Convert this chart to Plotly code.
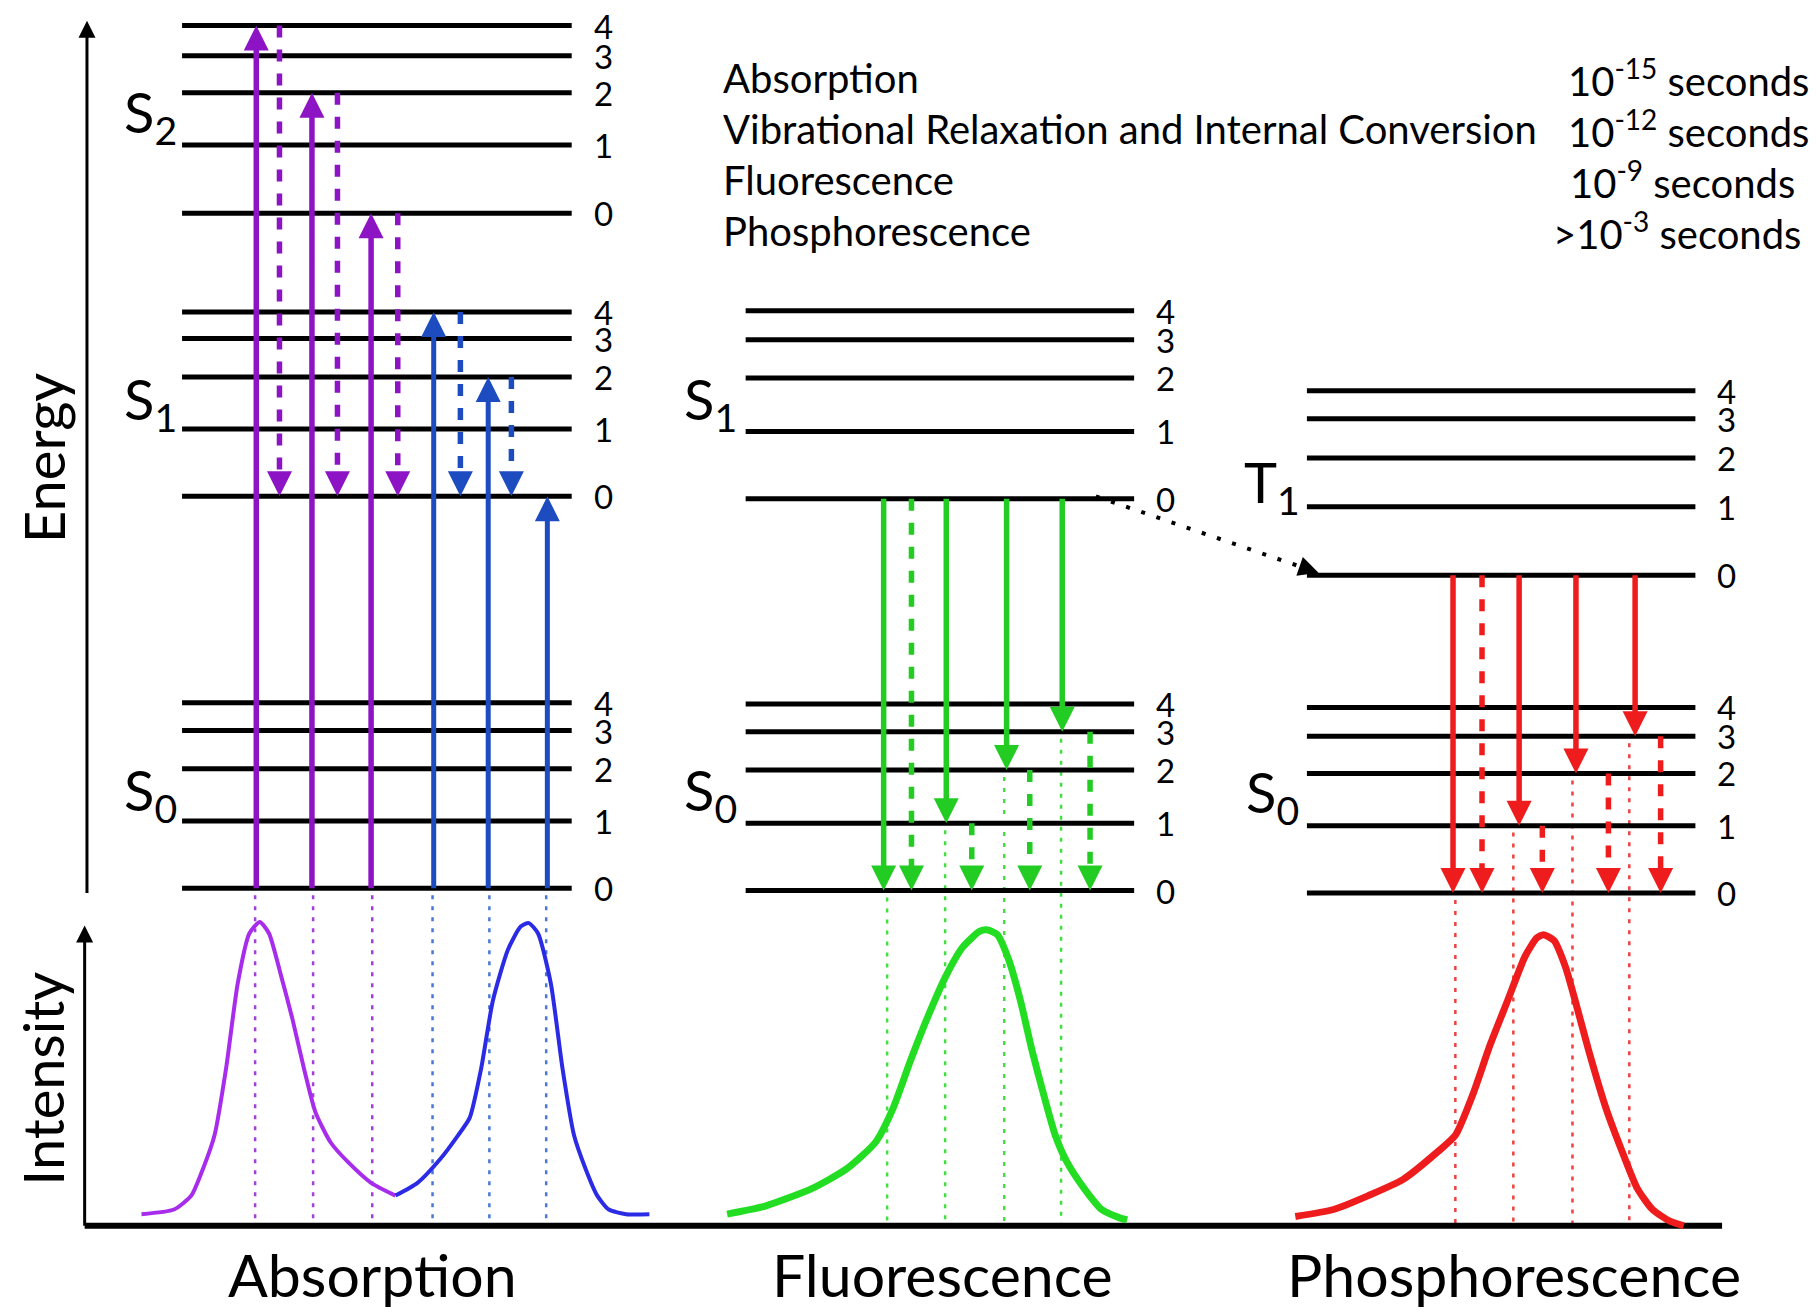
import math
import plotly.graph_objects as go

# ---------------- figure frame (figure units: 1566 x 1131.5) ----------------
W_PX, H_PX = 1816, 1312
X_MAX = 1566.0
Y_MAX = X_MAX * H_PX / W_PX
PX_PER_UNIT = W_PX / X_MAX

# ---------------- data ----------------
vib_labels = ["0", "1", "2", "3", "4"]

# energy of vibrational levels 0..4 (vertical position, top = high energy)
abs_S2_y = [184, 125, 80, 48, 22]
abs_S1_y = [428, 370, 325, 292, 269]
abs_S0_y = [766, 708, 663, 630, 606]
flu_S1_y = [430, 372, 326, 293, 268]
flu_S0_y = [768, 710, 664, 631, 607]
pho_T1_y = [496, 437, 395, 361, 337]
pho_S0_y = [770, 712, 667, 635, 610]

abs_span = [157, 493]
flu_span = [643, 978]
pho_span = [1127, 1462]

# absorption transitions (x position, target vibrational level)
abs_S2_up_x = [221, 269, 320]
abs_S2_up_to = [4, 2, 0]
abs_S1_up_x = [374, 421, 472]
abs_S1_up_to = [4, 2, 0]
abs_S2_relax_x = [241, 291, 343]
abs_S2_relax_from = [4, 2, 0]
abs_S1_relax_x = [397, 441]
abs_S1_relax_from = [4, 2]

# fluorescence transitions
flu_emit_x = [762, 816, 868, 916]
flu_emit_to = [0, 1, 2, 3]
flu_relax_x = [786, 838, 888, 940]
flu_relax_from = ["S1", 1, 2, 3]
flu_guide_x = [765, 815, 866, 915]

# phosphorescence transitions
pho_emit_x = [1253, 1310, 1359, 1410]
pho_emit_to = [0, 1, 2, 3]
pho_relax_x = [1278, 1330, 1387, 1432]
pho_relax_from = ["T1", 1, 2, 3]
pho_guide_x = [1255, 1305, 1356, 1405]

abs_guide_purple_x = [220, 270, 321]
abs_guide_blue_x = [373, 422, 471]

# intersystem crossing
isc_x = [945, 1137]
isc_y = [428, 494]

# spectra
spec_base_y = 1057
abs_purple_x = [122, 150, 165, 175, 185, 195, 205, 215, 224, 232, 242, 252, 262, 272, 285, 300, 320, 341]
abs_purple_y = [1047, 1043, 1031, 1008, 979, 921, 848, 805, 795, 805, 840, 878, 921, 959, 985, 1002, 1020, 1031]
abs_blue_x = [341, 360, 380, 395, 405, 415, 425, 438, 449, 456, 464, 475, 485, 495, 505, 515, 525, 540, 560]
abs_blue_y = [1031, 1020, 999, 979, 964, 921, 863, 819, 799, 796, 805, 848, 921, 979, 1008, 1031, 1043, 1047, 1047]
flu_x = [627, 660, 700, 730, 755, 770, 785, 800, 815, 830, 845, 852, 860, 870, 880, 890, 900, 910, 920, 935, 950, 965, 972]
flu_y = [1047, 1040, 1025, 1008, 985, 956, 915, 877, 843, 817, 803, 802, 806, 828, 863, 906, 944, 979, 1002, 1025, 1043, 1050, 1052]
pho_x = [1117, 1150, 1180, 1210, 1240, 1255, 1270, 1285, 1300, 1315, 1325, 1331, 1340, 1350, 1360, 1370, 1385, 1400, 1412, 1425, 1440, 1452]
pho_y = [1049, 1043, 1031, 1017, 993, 979, 944, 901, 863, 825, 809, 806, 811, 834, 869, 906, 956, 996, 1025, 1043, 1053, 1057]

legend_names = ["Absorption", "Vibrational Relaxation and Internal Conversion", "Fluorescence", "Phosphorescence"]
legend_times = ["10<sup>-15</sup> seconds", "10<sup>-12</sup> seconds", "10<sup>-9</sup> seconds", "&gt;10<sup>-3</sup> seconds"]
legend_rows_y = [67, 111, 155, 199]
legend_times_right = [1562, 1562, 1550, 1555]

panel_titles = ["Absorption", "Fluorescence", "Phosphorescence"]
panel_title_x = [321, 813, 1306]

# ---------------- styles ----------------
FONT = "Lato"
PURPLE = "#8C14C4"
BLUE = "#1C4CC0"
GREEN = "#22CC22"
RED = "#EE1C1C"

fig = go.Figure()


def seg(x, y, color, width, dash="solid", head=0):
    lx, ly = list(x), list(y)
    if head:
        dx, dy = x[1] - x[0], y[1] - y[0]
        L = math.hypot(dx, dy)
        cut = 0.6 * head / PX_PER_UNIT
        lx[1] = x[1] - dx / L * cut
        ly[1] = y[1] - dy / L * cut
    fig.add_trace(go.Scatter(
        x=lx, y=ly, mode="lines", line=dict(color=color, width=width, dash=dash),
        hoverinfo="skip", showlegend=False))
    if head:
        fig.add_trace(go.Scatter(
            x=list(x), y=list(y), mode="markers", opacity=1,
            marker=dict(symbol="arrow-up", angleref="previous", size=[0, head],
                        color=color, opacity=1, line=dict(width=0)),
            hoverinfo="skip", showlegend=False))


def levels(span, ys):
    xs, yy = [], []
    for y in ys:
        xs += [span[0], span[1], None]
        yy += [y, y, None]
    fig.add_trace(go.Scatter(x=xs, y=yy, mode="lines", line=dict(color="black", width=5),
                             hoverinfo="skip", showlegend=False))


def level_labels(span, ys):
    for lab, y in zip(vib_labels, ys):
        fig.add_annotation(x=span[1] + 27, y=y, text=lab, showarrow=False,
                           xanchor="center", yanchor="middle",
                           font=dict(family=FONT, size=33, color="black"))


# spectra dotted guides (drawn first, under everything)
for x in abs_guide_purple_x:
    seg([x, x], [abs_S0_y[0] + 6, spec_base_y], "#A040D8", 2.5, "4px,7px")
for x in abs_guide_blue_x:
    seg([x, x], [abs_S0_y[0] + 6, spec_base_y], "#4A78D8", 2.5, "4px,7px")
for x, t in zip(flu_guide_x, flu_emit_to):
    seg([x, x], [flu_S0_y[t] + 6, spec_base_y], "#44DD44", 2.5, "4px,7px")
for x, t in zip(pho_guide_x, pho_emit_to):
    seg([x, x], [pho_S0_y[t] + 6, spec_base_y], "#F04040", 2.5, "4px,7px")

# energy levels
for span, ys in [(abs_span, abs_S2_y), (abs_span, abs_S1_y), (abs_span, abs_S0_y),
                 (flu_span, flu_S1_y), (flu_span, flu_S0_y),
                 (pho_span, pho_T1_y), (pho_span, pho_S0_y)]:
    levels(span, ys)
    level_labels(span, ys)

HEAD = 25
DASH = "12px,12px"
# absorption arrows
for x, t in zip(abs_S2_up_x, abs_S2_up_to):
    seg([x, x], [abs_S0_y[0], abs_S2_y[t]], PURPLE, 5.5, head=HEAD)
for x, t in zip(abs_S1_up_x, abs_S1_up_to):
    seg([x, x], [abs_S0_y[0], abs_S1_y[t]], BLUE, 5, head=HEAD)
for x, f in zip(abs_S2_relax_x, abs_S2_relax_from):
    seg([x, x], [abs_S2_y[f], abs_S1_y[0]], PURPLE, 5.5, DASH, head=HEAD)
for x, f in zip(abs_S1_relax_x, abs_S1_relax_from):
    seg([x, x], [abs_S1_y[f], abs_S1_y[0]], BLUE, 5.5, DASH, head=HEAD)

# fluorescence arrows
for x, t in zip(flu_emit_x, flu_emit_to):
    seg([x, x], [flu_S1_y[0], flu_S0_y[t]], GREEN, 5.5, head=HEAD)
for x, f in zip(flu_relax_x, flu_relax_from):
    y0 = flu_S1_y[0] if f == "S1" else flu_S0_y[f]
    seg([x, x], [y0, flu_S0_y[0]], GREEN, 5.5, DASH, head=HEAD)

# phosphorescence arrows
for x, t in zip(pho_emit_x, pho_emit_to):
    seg([x, x], [pho_T1_y[0], pho_S0_y[t]], RED, 5.5, head=HEAD)
for x, f in zip(pho_relax_x, pho_relax_from):
    y0 = pho_T1_y[0] if f == "T1" else pho_S0_y[f]
    seg([x, x], [y0, pho_S0_y[0]], RED, 5.5, DASH, head=HEAD)

# intersystem crossing
seg(isc_x, isc_y, "black", 4, "4px,12px", head=20)

# axes
seg([75, 75], [abs_S0_y[0] + 4, 18], "black", 3, head=17)
seg([73, 73], [spec_base_y, 798], "black", 3, head=17)
seg([73, 1485], [spec_base_y, spec_base_y], "black", 6)

# spectra
for xs, ys, c, w in [(abs_purple_x, abs_purple_y, "#A82CEC", 4), (abs_blue_x, abs_blue_y, "#2B2BE6", 4),
                     (flu_x, flu_y, "#22DD22", 7), (pho_x, pho_y, "#EE1C1C", 7)]:
    fig.add_trace(go.Scatter(x=xs, y=ys, mode="lines", line=dict(color=c, width=w, shape="spline", smoothing=0.6),
                             hoverinfo="skip", showlegend=False))

# state labels
for txt, x, y in [("S<sub>2</sub>", 130, 100), ("S<sub>1</sub>", 130, 347), ("S<sub>0</sub>", 130, 684),
                  ("S<sub>1</sub>", 613, 347), ("S<sub>0</sub>", 613, 684),
                  ("T<sub>1</sub>", 1097, 419), ("S<sub>0</sub>", 1097, 686)]:
    fig.add_annotation(x=x, y=y, text=txt, showarrow=False, xanchor="center", yanchor="middle",
                       font=dict(family=FONT, size=56, color="black"))

# legend text
for name, t, y, xr in zip(legend_names, legend_times, legend_rows_y, legend_times_right):
    fig.add_annotation(x=622, y=y, text=name, showarrow=False, xanchor="left", yanchor="middle",
                       font=dict(family=FONT, size=40, color="black"))
    fig.add_annotation(x=xr, y=y, text=t, showarrow=False, xanchor="right", yanchor="middle",
                       font=dict(family=FONT, size=40, color="black"))

# panel titles
for name, x in zip(panel_titles, panel_title_x):
    fig.add_annotation(x=x, y=1099, text=name, showarrow=False, xanchor="center", yanchor="middle",
                       font=dict(family=FONT, size=59, color="black"))

# axis titles
fig.add_annotation(x=37, y=395, text="Energy", textangle=-90, showarrow=False,
                   xanchor="center", yanchor="middle", font=dict(family=FONT, size=56, color="black"))
fig.add_annotation(x=37, y=930, text="Intensity", textangle=-90, showarrow=False,
                   xanchor="center", yanchor="middle", font=dict(family=FONT, size=56, color="black"))

fig.update_layout(
    width=W_PX, height=H_PX, margin=dict(l=0, r=0, t=0, b=0),
    paper_bgcolor="white", plot_bgcolor="white", showlegend=False,
    xaxis=dict(range=[0, X_MAX], visible=False, fixedrange=True),
    yaxis=dict(range=[Y_MAX, 0], visible=False, fixedrange=True),
)

fig.write_html("out.html", config={"displayModeBar": False},
               post_script="document.body.style.margin='0';document.body.style.overflow='hidden';")
